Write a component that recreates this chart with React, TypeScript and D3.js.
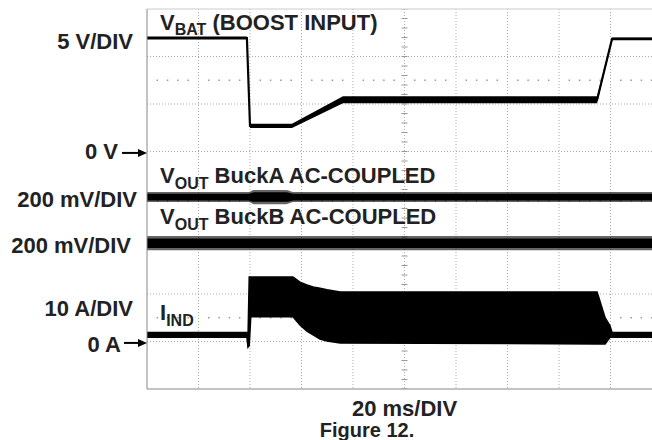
import * as d3 from "d3";

// time base: 20 ms/div, 10 divisions
const timeTicks = d3.range(0, 201, 20);
const minorTicks = d3.range(0, 201, 4);

// channel 1, VBAT (boost input), volts
const vbatTime = [0, 38.8, 40.0, 56.3, 76.1, 174.8, 180.6, 200];
const vbatVolts = [12.1, 12.1, 2.84, 2.84, 5.6, 5.6, 12.0, 12.0];
const vbatRipple = [0.3, 0.3, 0.45, 0.45, 0.75, 0.75, 0.3, 0.3];

// channel 2, VOUT BuckA (AC coupled), mV peak-to-peak band
const buckATime = [0, 39.5, 41.5, 54, 57, 200];
const buckACore = [28, 28, 40, 40, 28, 28];
const buckASpikes = [42, 42, 60, 60, 42, 42];

// channel 3, VOUT BuckB (AC coupled)
const buckBTime = [0, 200];
const buckBCore = [40, 40];
const buckBSpikes = [60, 60];

// channel 4, inductor current envelope, amps
const iindTime = [0, 38.8, 39.2, 39.7, 40.3, 56.7, 59.4, 62.1, 64.5, 67.2, 69.9, 75.0, 174.8, 177.9, 179.8, 180.6, 200];
const iindHigh = [2.2, 2.2, 0.6, 13.9, 13.9, 13.9, 12.8, 12.2, 11.8, 11.5, 11.2, 10.7, 10.7, 5.3, 3.6, 2.2, 2.2];
const iindLow = [1.2, 1.2, -0.9, -0.6, 5.5, 5.5, 3.8, 2.5, 1.7, 0.8, 0.4, 0.0, -0.2, -0.2, 1.2, 1.2, 1.2];

const scaleLabels = ["5 V/DIV", "200 mV/DIV", "200 mV/DIV", "10 A/DIV"];

const W = 652;
const H = 440;
const left = 147;
const top = 9;
const divW = 51.5;
const divH = 47.5;
const font = "'Liberation Sans', Arial, Helvetica, sans-serif";
const ink = "#222";

const x = d3.scaleLinear().domain([0, 200]).range([left, left + 10 * divW]);
const gy = d3.scaleLinear().domain([0, 8]).range([top, top + 8 * divH]);

function channel(zeroDiv: number, perDiv: number) {
  return d3.scaleLinear().domain([0, perDiv]).range([gy(zeroDiv), gy(zeroDiv - 1)]);
}

const yV = channel(3.03, 5);
const yA = channel(3.96, 200);
const yB = channel(4.93, 200);
const yI = channel(7.03, 10);

function band(t: number[], c: number[], w: number[], y: d3.ScaleLinear<number, number>) {
  return d3
    .area<number>()
    .x((i) => x(t[i]))
    .y0((i) => y(c[i] - w[i] / 2))
    .y1((i) => y(c[i] + w[i] / 2))
    .curve(d3.curveMonotoneX)(d3.range(t.length)) as string;
}

function Arrow({ x0, y }: { x0: number; y: number }) {
  return (
    <g>
      <line x1={x0} x2={left - 6} y1={y} y2={y} stroke="#000" strokeWidth={2} />
      <path d={`M${left},${y}L${left - 9},${y - 4}L${left - 9},${y + 4}Z`} fill="#000" />
    </g>
  );
}

export default function App() {
  const vbatLine = d3
    .line<number>()
    .x((i) => x(vbatTime[i]))
    .y((i) => yV(vbatVolts[i]))(d3.range(vbatTime.length)) as string;

  const vbatBand = d3
    .area<number>()
    .x((i) => x(vbatTime[i]))
    .y0((i) => yV(vbatVolts[i] - vbatRipple[i] / 2))
    .y1((i) => yV(vbatVolts[i] + vbatRipple[i] / 2))(d3.range(vbatTime.length)) as string;

  const iindArea = d3
    .area<number>()
    .x((i) => x(iindTime[i]))
    .y0((i) => yI(iindLow[i]))
    .y1((i) => yI(iindHigh[i]))(d3.range(iindTime.length)) as string;

  const zeroB = buckBTime.map(() => 0);
  const zeroA = buckATime.map(() => 0);
  const cx = x(100);
  const cy = gy(4);

  return (
    <svg
      width={W}
      height={H}
      style={{ position: "absolute", left: 0, top: 0, background: "#fff" }}
      fontFamily={font}
      fontWeight="bold"
    >
      <rect width={W} height={H} fill="#fff" />
      <defs>
        <clipPath id="screen">
          <rect x={left} y={top} width={10 * divW} height={8 * divH} />
        </clipPath>
      </defs>
      <g clipPath="url(#screen)">
        {/* grid */}
        {timeTicks.slice(1, -1).map((t) => (
          <line key={"v" + t} x1={x(t)} x2={x(t)} y1={top} y2={gy(8)} stroke="#aaa" strokeDasharray="1,2" />
        ))}
        {d3.range(1, 8).map((d) => (
          <line key={"h" + d} x1={left} x2={x(200)} y1={gy(d)} y2={gy(d)} stroke="#aaa" strokeDasharray="1,2" />
        ))}
        {/* centre ticks */}
        {minorTicks.map((t) => (
          <line key={"ct" + t} x1={x(t)} x2={x(t)} y1={cy - 3} y2={cy + 3} stroke="#999" />
        ))}
        {d3.range(0, 8.01, 0.2).map((d) => (
          <line key={"cv" + d} x1={cx - 3} x2={cx + 3} y1={gy(d)} y2={gy(d)} stroke="#999" />
        ))}
        {/* half-division dot rows */}
        {[1.5, 6.5].map((d) =>
          minorTicks
            .filter((t) => t % 20 !== 0)
            .map((t) => <rect key={"dot" + d + t} x={x(t) - 0.75} y={gy(d) - 0.75} width={1.5} height={1.5} fill="#999" />)
        )}

        {/* traces */}
        <path d={band(buckATime, zeroA, buckASpikes, yA)} fill="#000" opacity={0.6} />
        <path d={band(buckATime, zeroA, buckACore, yA)} fill="#000" />
        <path d={band(buckBTime, zeroB, buckBSpikes, yB)} fill="#000" opacity={0.6} />
        <path d={band(buckBTime, zeroB, buckBCore, yB)} fill="#000" />
        <path d={vbatBand} fill="#000" />
        <path d={vbatLine} fill="none" stroke="#000" strokeWidth={2.2} />
        <path d={iindArea} fill="#000" stroke="#000" strokeWidth={1.5} />
      </g>

      {/* screen border */}
      <line x1={left} x2={W} y1={top} y2={top} stroke="#ccc" />
      <line x1={left} x2={W} y1={gy(8)} y2={gy(8)} stroke="#888" />
      <line x1={left} x2={left} y1={top} y2={gy(8)} stroke="#888" />

      {/* trace labels */}
      <g fill={ink} fontSize={22}>
        <text x={160} y={30}>
          V<tspan fontSize={16} dy={5}>BAT</tspan>
          <tspan dy={-5}> (BOOST INPUT)</tspan>
        </text>
        <text x={160} y={183}>
          V<tspan fontSize={16} dy={6}>OUT</tspan>
          <tspan dy={-6}> BuckA AC-COUPLED</tspan>
        </text>
        <text x={160} y={224}>
          V<tspan fontSize={16} dy={6}>OUT</tspan>
          <tspan dy={-6}> BuckB AC-COUPLED</tspan>
        </text>
        <text x={160} y={320}>
          I<tspan fontSize={16} dy={6}>IND</tspan>
        </text>
      </g>

      {/* scale labels */}
      <g fill={ink} fontSize={22} textAnchor="end">
        <text x={133} y={49}>{scaleLabels[0]}</text>
        <text x={118} y={159}>0 V</text>
        <text x={137} y={207}>{scaleLabels[1]}</text>
        <text x={131} y={253}>{scaleLabels[2]}</text>
        <text x={133} y={316}>{scaleLabels[3]}</text>
        <text x={121} y={352}>0 A</text>
      </g>
      <Arrow x0={122} y={yV(0)} />
      <Arrow x0={124} y={yI(0)} />

      <text x={404.5} y={416} fill={ink} fontSize={22} textAnchor="middle">20 ms/DIV</text>
      <text x={367} y={437} fill={ink} fontSize={20} textAnchor="middle">Figure 12.</text>
    </svg>
  );
}
